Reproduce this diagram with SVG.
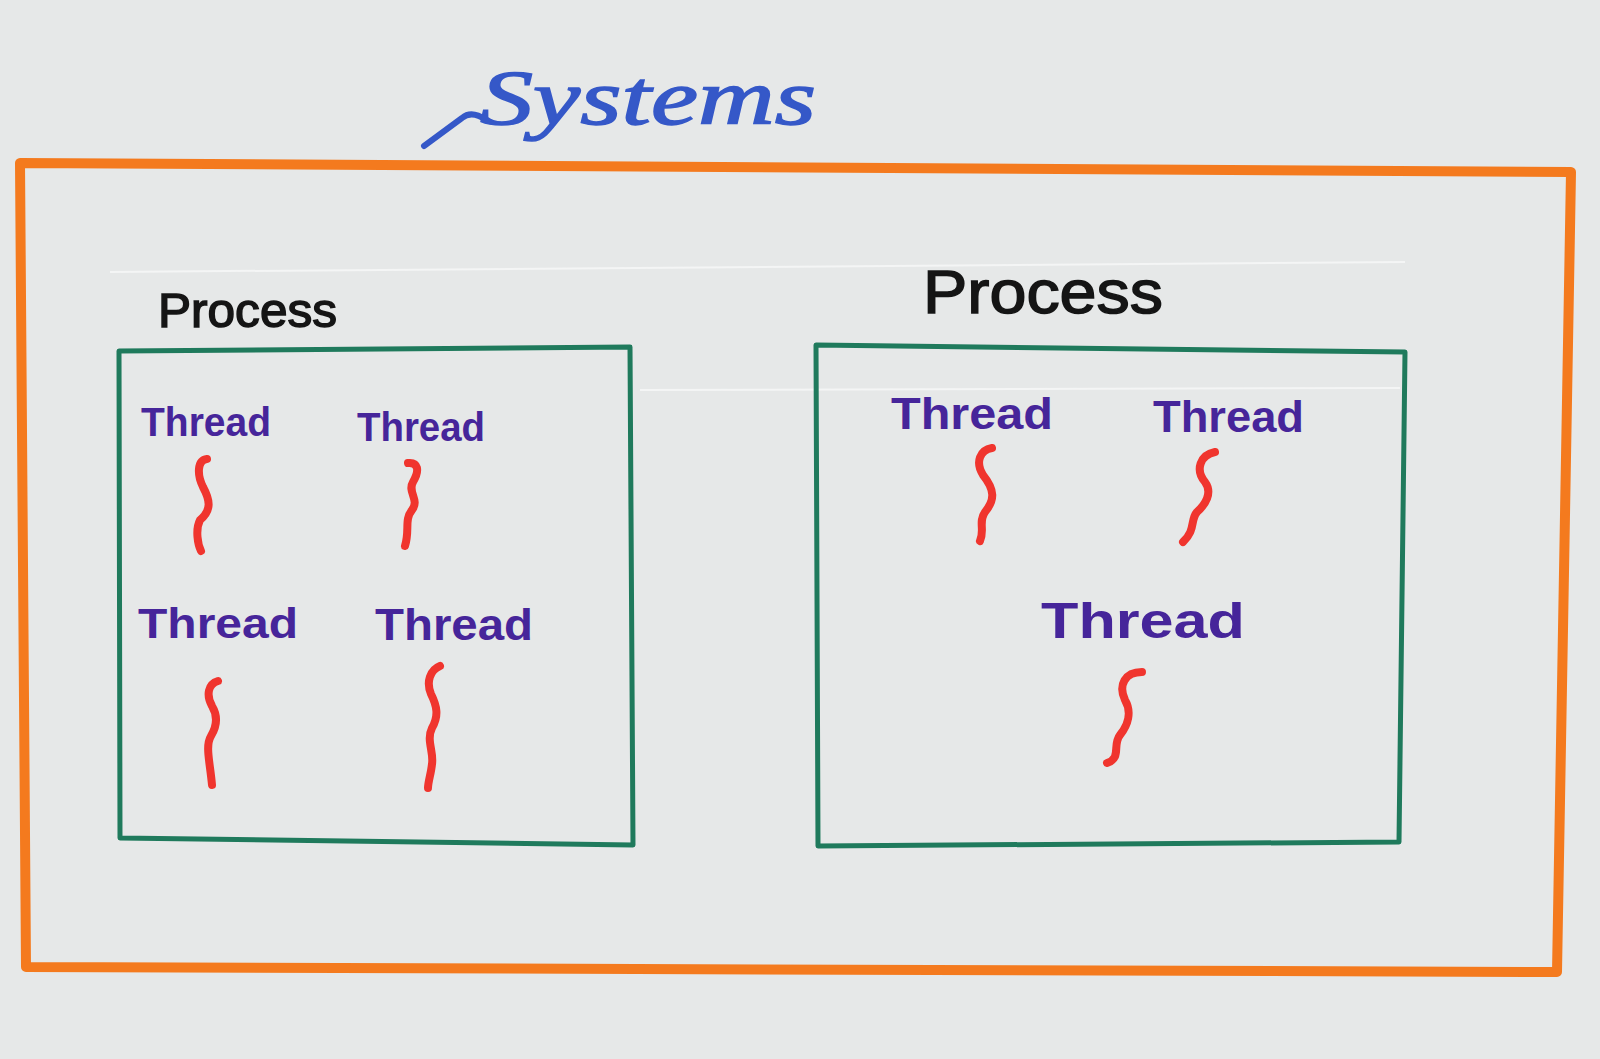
<svg xmlns="http://www.w3.org/2000/svg" width="1600" height="1059" viewBox="0 0 1600 1059">
<defs>
<style>
.paper{fill:#e6e8e8}
.fold{stroke:#f4f5f5;stroke-width:2;fill:none}
.sys{fill:none;stroke:#f47a1e;stroke-width:10;stroke-linejoin:round;stroke-linecap:round}
.proc{fill:none;stroke:#1f7a5c;stroke-width:5;stroke-linejoin:round;stroke-linecap:round}
.ptitle{font-family:"Liberation Sans",Arial,sans-serif;fill:#151515;stroke:#151515;stroke-width:1.5}
.thread{font-family:"Liberation Sans",Arial,sans-serif;font-weight:bold;fill:#46259a}
.sq{fill:none;stroke:#f0352e;stroke-width:8;stroke-linecap:round;stroke-linejoin:round}
.title{font-family:"Liberation Serif",serif;font-style:italic;fill:#3558c8;stroke:#3558c8;stroke-width:1.5}
</style>
</defs>
<rect class="paper" x="0" y="0" width="1600" height="1059"/>
<path class="fold" d="M110,272 L1405,262"/>
<path class="fold" d="M640,390 L1400,388"/>

<g id="title">
<text class="title" x="480" y="124" font-size="78" textLength="336" lengthAdjust="spacingAndGlyphs">Systems</text>
<path d="M424,146 L462,118 C468,113 476,113 486,120" fill="none" stroke="#3558c8" stroke-width="6" stroke-linecap="round" stroke-linejoin="round"/>
</g>

<g id="system">
<path class="sys" d="M20,163 L1571,172 L1557,972 L26,967 Z"/>
</g>

<g id="process-left">
<path class="proc" d="M119,351 L630,347 L633,845 L120,838 Z"/>
<text class="ptitle" x="158" y="327" font-size="48" textLength="179" lengthAdjust="spacingAndGlyphs">Process</text>
</g>

<g id="process-right">
<path class="proc" d="M816,345 L1405,352 L1399,842 L818,846 Z"/>
<text class="ptitle" x="923" y="313" font-size="62" textLength="240" lengthAdjust="spacingAndGlyphs">Process</text>
</g>

<g id="thread-l1">
<text class="thread" x="141" y="436" font-size="40" textLength="130" lengthAdjust="spacingAndGlyphs">Thread</text>
<path class="sq" d="M207,459 C197,460 197,475 203,487 C210,500 212,510 200,520 C195,530 198,545 201,551"/>
</g>
<g id="thread-l2">
<text class="thread" x="357" y="441" font-size="40" textLength="128" lengthAdjust="spacingAndGlyphs">Thread</text>
<path class="sq" d="M408,463 C418,462 420,470 413,482 C407,492 420,500 412,510 C404,520 410,530 405,546"/>
</g>
<g id="thread-l3">
<text class="thread" x="138" y="638" font-size="42" textLength="160" lengthAdjust="spacingAndGlyphs">Thread</text>
<path class="sq" d="M218,681 C208,684 206,695 212,706 C218,716 217,726 211,736 C205,746 210,762 212,785"/>
</g>
<g id="thread-l4">
<text class="thread" x="375" y="640" font-size="44" textLength="158" lengthAdjust="spacingAndGlyphs">Thread</text>
<path class="sq" d="M440,666 C430,670 426,682 431,694 C437,706 439,716 432,728 C426,740 434,752 432,764 C431,774 428,782 428,788"/>
</g>

<g id="thread-r1">
<text class="thread" x="891" y="429" font-size="44" textLength="162" lengthAdjust="spacingAndGlyphs" fill="#5a2fa8">Thread</text>
<path class="sq" d="M992,448 C980,450 975,462 983,475 C995,490 995,500 985,512 C978,522 985,530 980,541"/>
</g>
<g id="thread-r2">
<text class="thread" x="1153" y="432" font-size="44" textLength="151" lengthAdjust="spacingAndGlyphs">Thread</text>
<path class="sq" d="M1215,452 C1200,455 1195,470 1205,482 C1213,493 1205,505 1197,512 C1190,520 1196,530 1183,542"/>
</g>
<g id="thread-r3">
<text class="thread" x="1041" y="638" font-size="50" textLength="204" lengthAdjust="spacingAndGlyphs">Thread</text>
<path class="sq" d="M1142,672 C1125,672 1118,685 1125,700 C1132,712 1128,725 1120,735 C1112,745 1122,758 1107,763"/>
</g>
</svg>
